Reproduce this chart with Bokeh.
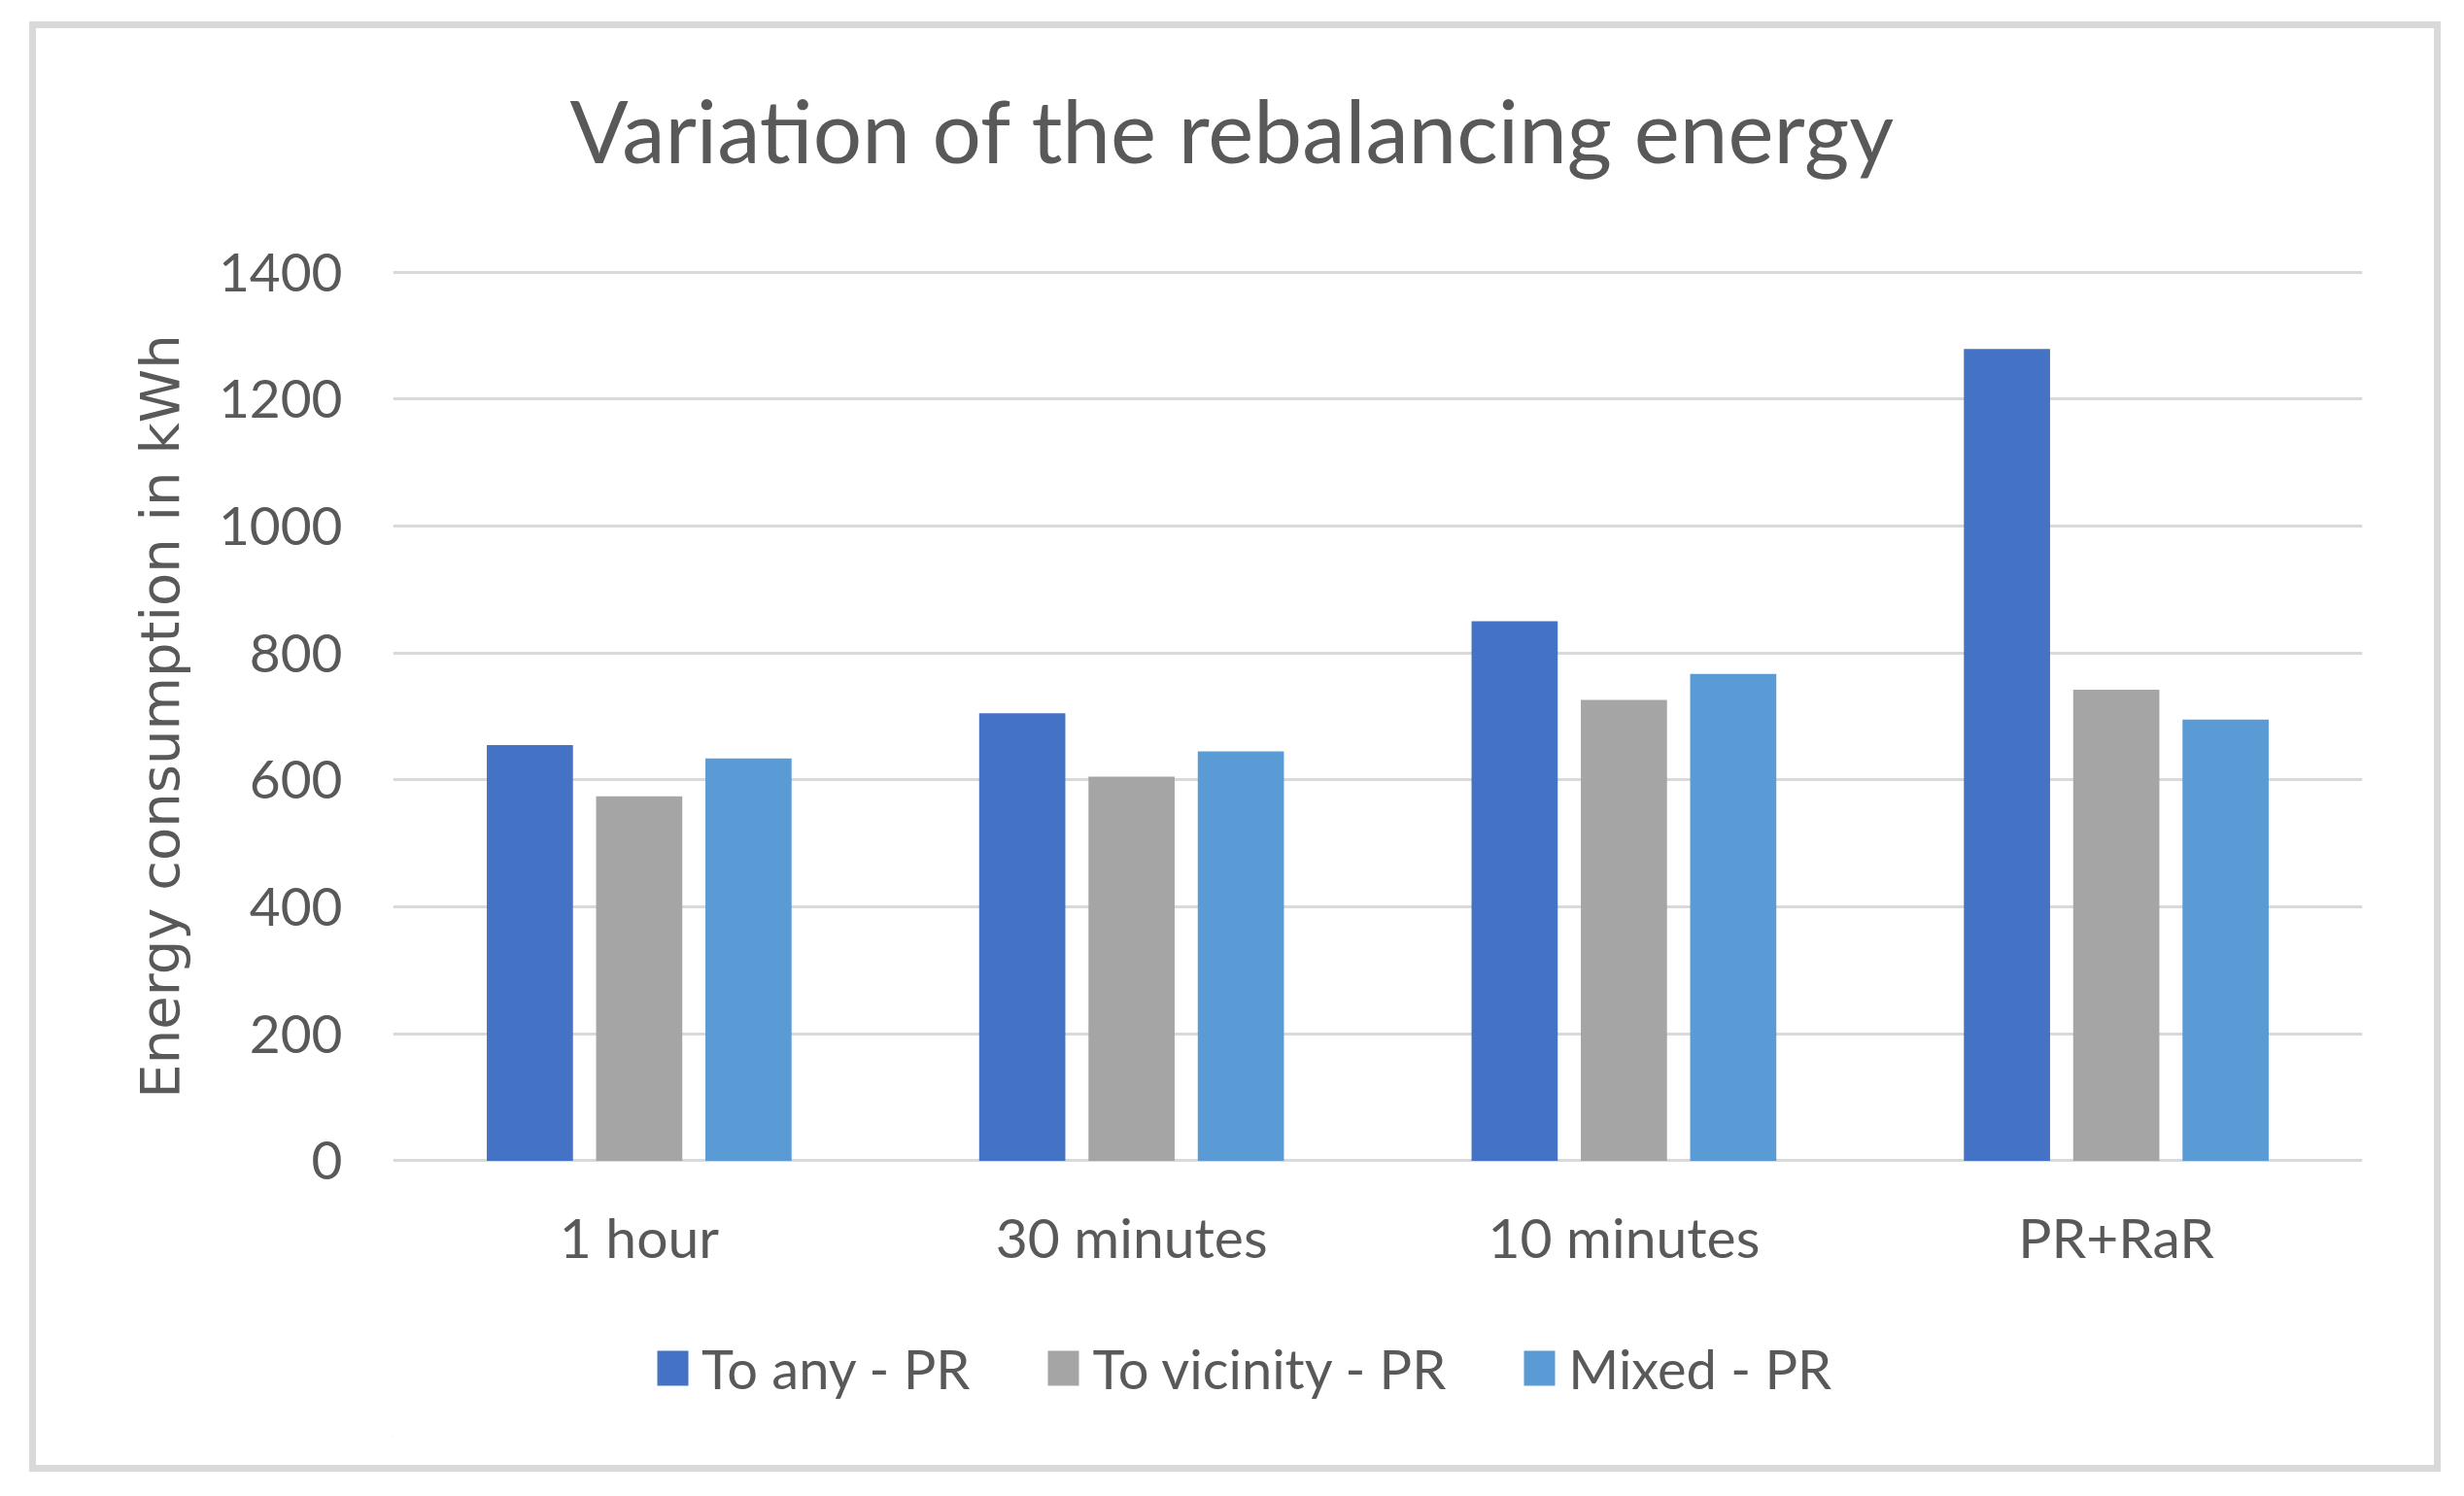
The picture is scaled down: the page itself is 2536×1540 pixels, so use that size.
from bokeh.plotting import figure
from bokeh.layouts import column
from bokeh.models import (FactorRange, Range1d, FixedTicker, Legend, LegendItem,
                          ColumnDataSource, Title)
from bokeh.core.properties import value
from bokeh.transform import dodge
from bokeh.embed import file_html
from bokeh.resources import INLINE

categories = ["1 hour", "30 minutes", "10 minutes", "PR+RaR"]
series_names = ["To any - PR", "To vicinity - PR", "Mixed - PR"]
to_any = [655, 705, 850, 1279]
to_vicinity = [574, 605, 726, 742]
mixed = [634, 645, 767, 695]
y_ticks = [0, 200, 400, 600, 800, 1000, 1200, 1400]
colors = ["#4472C4", "#A5A5A5", "#5B9BD5"]
title_text = "Variation of the rebalancing energy"
y_label = "Energy consumption in kWh"

TXT = "#595959"
FONT = "Lato"
W = 2510


def bare(fig):
    fig.outline_line_color = None
    fig.background_fill_color = None
    fig.border_fill_color = None
    return fig


# ---- title strip ----
pt = bare(figure(width=W, height=200, x_range=Range1d(0, 1), y_range=Range1d(0, 1),
                 x_axis_type=None, y_axis_type=None, output_backend="svg",
                 toolbar_location=None, title=None,
                 min_border_left=388, min_border_right=95,
                 min_border_top=183, min_border_bottom=0))
pt.grid.visible = False
pt.add_layout(Title(text=title_text, text_font=FONT, text_font_size="89px",
                    text_font_style="normal", text_color=TXT, align="left",
                    offset=182, standoff=10), "above")

# ---- main chart ----
src = ColumnDataSource(dict(cat=categories, a=to_any, v=to_vicinity, m=mixed))
p = figure(width=W, height=1130,
           x_range=FactorRange(*categories, range_padding=0),
           y_range=Range1d(-4, 1404),
           output_backend="svg", toolbar_location=None, title=None,
           min_border_left=388, min_border_right=95,
           min_border_top=69, min_border_bottom=141)
bare(p)
p.background_fill_color = "white"

bw = 0.175
step = 0.222
for key, off, col in zip(["a", "v", "m"], [-step, 0, step], colors):
    p.vbar(x=dodge("cat", off, range=p.x_range), top=key, width=bw, source=src,
           fill_color=col, line_color=None)

p.xgrid.visible = False
p.ygrid.ticker = FixedTicker(ticks=y_ticks)
p.ygrid.grid_line_color = "#D9D9D9"
p.ygrid.grid_line_width = 3

p.yaxis.ticker = FixedTicker(ticks=y_ticks)
p.yaxis.axis_line_color = None
p.yaxis.major_tick_line_color = None
p.yaxis.minor_tick_line_color = None
p.yaxis.major_tick_out = 0
p.yaxis.major_tick_in = 0
p.yaxis.major_label_standoff = 52
p.yaxis.major_label_text_font = FONT
p.yaxis.major_label_text_font_size = "55px"
p.yaxis.major_label_text_color = TXT
p.yaxis.axis_label = y_label
p.yaxis.axis_label_text_font = "DejaVu Sans"
p.yaxis.axis_label_text_font_size = "56px"
p.yaxis.axis_label_text_font_style = "normal"
p.yaxis.axis_label_text_color = TXT
p.yaxis.axis_label_standoff = 25

p.xaxis.axis_line_color = None
p.xaxis.major_tick_line_color = None
p.xaxis.major_tick_out = 0
p.xaxis.major_tick_in = 0
p.xaxis.major_label_standoff = 41
p.xaxis.major_label_text_font = FONT
p.xaxis.major_label_text_font_size = "57px"
p.xaxis.major_label_text_color = TXT

# ---- legend strip ----
pl = bare(figure(width=W, height=191, x_range=Range1d(0, 1), y_range=Range1d(0, 1),
                 x_axis_type=None, y_axis_type=None, output_backend="svg",
                 toolbar_location=None, title=None,
                 min_border_left=388, min_border_right=95,
                 min_border_top=0, min_border_bottom=51))
pl.grid.visible = False
# legend keys: zero-height bars placed far outside the strip's visible area
lsrc = ColumnDataSource(dict(x=[-50], val=[-50]))
lrs = [pl.vbar(x="x", top="val", bottom="val", width=0.5, source=lsrc,
               fill_color=c, line_color=None)
       for c in colors]
legend = Legend(items=[LegendItem(label=value(n), renderers=[r]) for n, r in zip(series_names, lrs)],
                orientation="horizontal", location="left",
                border_line_color=None, background_fill_alpha=0,
                padding=0, margin=268, spacing=76, label_standoff=10,
                glyph_width=40, glyph_height=45,
                label_text_font=FONT, label_text_font_size="56px",
                label_text_color=TXT)
pl.add_layout(legend)

layout = column(pt, p, pl, spacing=0)
layout.margin = (8, 0, 0, 16)
layout.styles = {"outline": "7px solid #D9D9D9", "outline-offset": "-21px"}

open("out.html", "w").write(file_html(layout, INLINE))
